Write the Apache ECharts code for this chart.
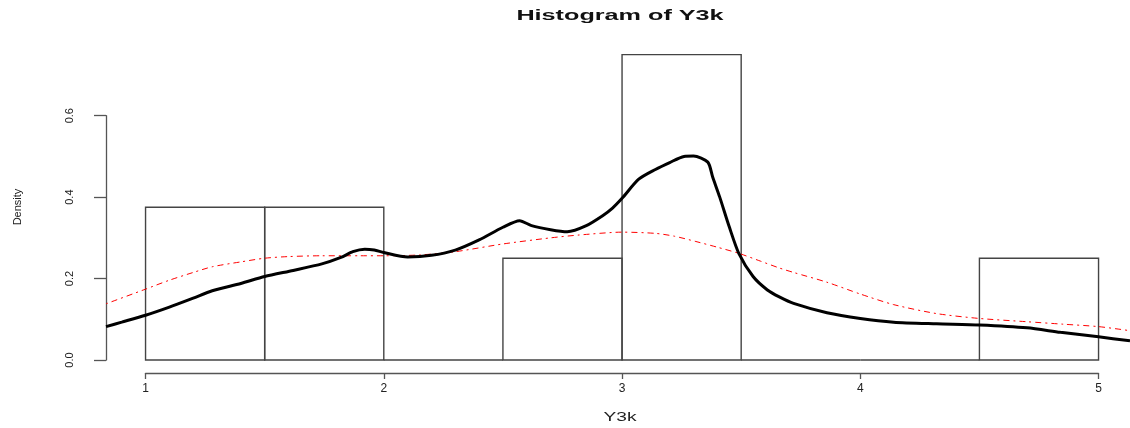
<!DOCTYPE html>
<html>
<head>
<meta charset="utf-8">
<script src="https://cdn.jsdelivr.net/npm/echarts@6/dist/echarts.min.js"></script>
<style>html,body{margin:0;padding:0;background:#fff;}#c{width:1130px;height:428px;}</style>
</head>
<body>
<div id="c"></div>
<script>
// Histogram bins (left edges), bin width and densities
var binStarts = [1, 1.5, 2, 2.5, 3, 3.5, 4, 4.5];
var binWidth = 0.5;
var densities = [0.375, 0.375, 0, 0.25, 0.75, 0, 0, 0.25];

// Kernel density estimate (black)
var kdeX = [0.834, 0.9, 1.0, 1.1, 1.2, 1.28, 1.4, 1.5, 1.62, 1.74, 1.82, 1.87, 1.92, 1.96, 2.0, 2.1, 2.2, 2.3, 2.4, 2.5, 2.57, 2.62, 2.7, 2.77, 2.85, 2.92, 2.96, 3.0, 3.07, 3.14, 3.2, 3.26, 3.3, 3.36, 3.38, 3.41, 3.45, 3.49, 3.55, 3.61, 3.66, 3.72, 3.86, 4.0, 4.14, 4.32, 4.5, 4.7, 4.84, 5.0, 5.132];
var kdeY = [0.082, 0.093, 0.11, 0.13, 0.152, 0.170, 0.188, 0.205, 0.22, 0.236, 0.252, 0.266, 0.272, 0.270, 0.264, 0.253, 0.257, 0.270, 0.295, 0.326, 0.342, 0.330, 0.320, 0.315, 0.330, 0.355, 0.373, 0.397, 0.444, 0.468, 0.485, 0.500, 0.501, 0.486, 0.45, 0.40, 0.327, 0.262, 0.205, 0.172, 0.155, 0.139, 0.116, 0.102, 0.093, 0.089, 0.086, 0.079, 0.068, 0.057, 0.047];

// Fitted curve (red)
var fitX = [0.834, 1.0, 1.1, 1.2, 1.28, 1.4, 1.5, 1.6, 1.74, 1.9, 2.0, 2.15, 2.3, 2.5, 2.7, 2.82, 3.0, 3.14, 3.22, 3.31, 3.4, 3.49, 3.58, 3.66, 3.72, 3.86, 4.0, 4.14, 4.32, 4.5, 4.7, 4.85, 5.0, 5.132];
var fitY = [0.138, 0.174, 0.196, 0.215, 0.229, 0.241, 0.250, 0.254, 0.256, 0.256, 0.256, 0.258, 0.266, 0.285, 0.300, 0.307, 0.314, 0.311, 0.304, 0.291, 0.277, 0.262, 0.243, 0.226, 0.215, 0.191, 0.162, 0.136, 0.114, 0.102, 0.094, 0.088, 0.082, 0.072];

// Axis ranges and tick values
var plotXRange = [0.834, 5.132];
var xTicks = [1, 2, 3, 4, 5];
var yTicks = [0, 0.2, 0.4, 0.6];

var FONT = '"Liberation Sans", Arial, sans-serif';

function zip(a, b) { return a.map(function (v, i) { return [v, b[i]]; }); }
var histData = binStarts.map(function (s, i) { return [s, s + binWidth, densities[i]]; });

var hiddenAxis = { show: false };
var chart = echarts.init(document.getElementById('c'), null, { renderer: 'canvas' });
chart.setOption({
  animation: false,
  backgroundColor: '#ffffff',
  grid: [
    { left: 106, right: 0, top: 115.7, height: 244.3 },
    { left: 145.5, width: 953, top: 115.7, height: 244.3 }
  ],
  graphic: [
    { type: 'text', x: 620, y: 16, scaleX: 1.8,
      style: { text: 'Histogram of Y3k', font: 'bold 14px ' + FONT, fill: '#111', align: 'center', verticalAlign: 'middle' } },
    { type: 'text', x: 620, y: 418, scaleX: 1.6,
      style: { text: 'Y3k', font: '12px ' + FONT, fill: '#222', align: 'center', verticalAlign: 'middle' } },
    { type: 'text', x: 18, y: 207, rotation: Math.PI / 2,
      style: { text: 'Density', font: '11px ' + FONT, fill: '#222', align: 'center', verticalAlign: 'middle' } }
  ],
  xAxis: [
    { type: 'value', gridIndex: 0, min: plotXRange[0], max: plotXRange[1], show: false },
    {
      type: 'value', gridIndex: 1, min: xTicks[0], max: xTicks[xTicks.length - 1], interval: 1, offset: 13,
      axisLine: { show: true, onZero: false, lineStyle: { color: '#555', width: 1.3 } },
      axisTick: { show: true, length: 6, lineStyle: { color: '#555', width: 1.3 } },
      axisLabel: { show: true, margin: 10, fontSize: 12, fontFamily: FONT, color: '#222',
        formatter: function (v) { return xTicks.indexOf(v) >= 0 ? String(v) : ''; } },
      splitLine: { show: false }
    }
  ],
  yAxis: [
    { type: 'value', gridIndex: 0, min: yTicks[0], max: yTicks[yTicks.length - 1], show: false },
    {
      type: 'value', gridIndex: 1, min: yTicks[0], max: yTicks[yTicks.length - 1], interval: 0.2, offset: 39.5,
      axisLine: { show: true, onZero: false, lineStyle: { color: '#555', width: 1.3 } },
      axisTick: { show: true, length: 12, lineStyle: { color: '#555', width: 1.3 } },
      axisLabel: { show: true, rotate: 90, margin: 31, fontSize: 11, fontFamily: FONT, color: '#222',
        formatter: function (v) { return v.toFixed(1); } },
      splitLine: { show: false }
    }
  ],
  series: [
    {
      type: 'custom', xAxisIndex: 0, yAxisIndex: 0, clip: false, z: 1,
      data: histData,
      renderItem: function (params, api) {
        var p0 = api.coord([api.value(0), 0]);
        var p1 = api.coord([api.value(1), api.value(2)]);
        return {
          type: 'rect',
          shape: { x: p0[0], y: p1[1], width: p1[0] - p0[0], height: p0[1] - p1[1] },
          style: { fill: 'rgba(0,0,0,0)', stroke: '#444', lineWidth: 1.4 }
        };
      }
    },
    {
      type: 'line', xAxisIndex: 0, yAxisIndex: 0, clip: false, z: 3, symbol: 'none', smooth: 0.25,
      data: zip(kdeX, kdeY),
      lineStyle: { color: '#000', width: 3 }
    },
    {
      type: 'line', xAxisIndex: 0, yAxisIndex: 0, clip: false, z: 2, symbol: 'none', smooth: 0.25,
      data: zip(fitX, fitY),
      lineStyle: { color: '#ff0000', width: 1, type: [2, 4, 6, 4] }
    }
  ]
});
</script>
</body>
</html>
